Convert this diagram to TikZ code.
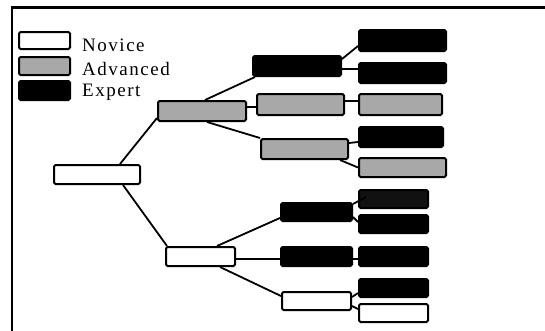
\documentclass[tikz,border=0pt]{standalone}
\usepackage{fontspec}
\newfontfamily\legendfont{Liberation Serif}[LetterSpace=8]
\usetikzlibrary{calc}

\definecolor{advgray}{HTML}{A8A8A8}
\definecolor{nearblack}{HTML}{111111}

\tikzset{
  tier/.style={draw=black, line width=2pt, rounded corners=1.5pt, inner sep=0pt},
  novice/.style={tier, fill=white},
  advanced/.style={tier, fill=advgray},
  expert/.style={tier, fill=black},
  link/.style={line width=1.8pt},
  legendtext/.style={anchor=base west, inner sep=0pt, font=\legendfont\fontsize{19}{19}\selectfont},
}

% box given by its outer edges: name, style, x1, y1, x2, y2
\newcommand\tierbox[6]{%
  \node[#2, minimum width={#5-#3-2}, minimum height={#6-#4-2}] (#1) at ({(#3+#5)/2},{(#4+#6)/2}) {};}

\begin{document}
\begin{tikzpicture}[x=1pt, y=-1pt]
\useasboundingbox (0,0) rectangle (545,330);

% frame
\draw[line width=2.2pt] (12,331) -- (12,7.5) -- (546,7.5);

% legend
\tierbox{keyN}{novice}{18}{31}{71}{50}
\tierbox{keyA}{advanced}{18}{56}{71}{76}
\tierbox{keyE}{expert}{18}{80}{71}{101}
\node[legendtext] (labN) at (82,51.5) {Novice};
\node[legendtext] (labA) at (82,75) {Advanced};
\node[legendtext] (labE) at (82,96.5) {Expert};

% root and first level
\tierbox{root}{novice}{53}{164}{141}{185}
\tierbox{gA}{advanced}{157}{100}{247}{122}
\tierbox{wL}{novice}{165}{246}{236}{267}

% second level (upper branch)
\tierbox{B1}{expert}{252}{55}{342}{77}
\tierbox{B2}{advanced}{256}{93}{345}{116}
\tierbox{B3}{advanced}{260}{138}{349}{160}

% third level (upper branch)
\tierbox{C1}{expert}{358}{29}{447}{52}
\tierbox{C2}{expert}{358}{62}{447}{84}
\tierbox{C3}{advanced}{358}{93}{443}{116}
\tierbox{C4}{expert}{358}{126}{444}{148}
\tierbox{C5}{advanced}{358}{157}{447}{178}

% second level (lower branch)
\tierbox{D1}{expert}{280}{202}{353}{222}
\tierbox{D2}{expert}{280}{246}{353}{267}
\tierbox{D3}{novice}{281}{291}{352}{311}

% third level (lower branch)
\tierbox{E1}{expert, fill=nearblack}{358}{189}{429}{209}
\tierbox{E2}{expert}{358}{214}{429}{234}
\tierbox{E3}{expert}{358}{246}{429}{267}
\tierbox{E4}{expert}{358}{278}{429}{298}
\tierbox{E5}{novice}{358}{303}{429}{323}

% connectors
\draw[link] ([xshift=23pt]root.north) -- ([yshift=4pt]gA.south west);
\draw[link] ([xshift=26pt]root.south) -- ([xshift=2pt]wL.north west);

\draw[link] ([xshift=3pt]gA.north) -- ([xshift=3pt]B1.south west);
\draw[link] ([yshift=4pt]gA.east) -- ([yshift=-2.5pt]B2.west);
\draw[link] ([xshift=5pt]gA.south) -- (B3.north west);

\draw[link] ([yshift=-4pt]B1.north east) -- ([yshift=6pt]C1.south west);
\draw[link] ([yshift=-3pt]B1.east) -- ([yshift=4pt]C2.west);
\draw[link] ([yshift=3.5pt]B2.east) -- ([yshift=3.5pt]C3.west);
\draw[link] ([yshift=6pt]B3.east) -- ([yshift=-5pt]C4.west);
\draw[link] ([xshift=-9pt]B3.south east) -- (C5.west);

\draw[link] ([xshift=16.5pt]wL.north) -- ([yshift=4pt]D1.south west);
\draw[link] ([yshift=-2.5pt]wL.east) -- ([yshift=-2.5pt]D2.west);
\draw[link] ([xshift=19.5pt]wL.south) -- ([yshift=5pt]D3.west);

\draw[link] ([yshift=-2pt]D1.north east) -- ([xshift=8pt,yshift=2pt]E1.west);
\draw[link] ([yshift=-5pt]D1.east) -- ([yshift=2pt]E2.west);
\draw[link] ([yshift=-2.5pt]D2.east) -- ([yshift=-2.5pt]E3.west);
\draw[link] ([yshift=4pt]D3.east) -- ([yshift=-5pt]E4.west);
\draw[link] ([yshift=-5pt]D3.east) -- ([yshift=4pt]E5.west);
\end{tikzpicture}
\end{document}
